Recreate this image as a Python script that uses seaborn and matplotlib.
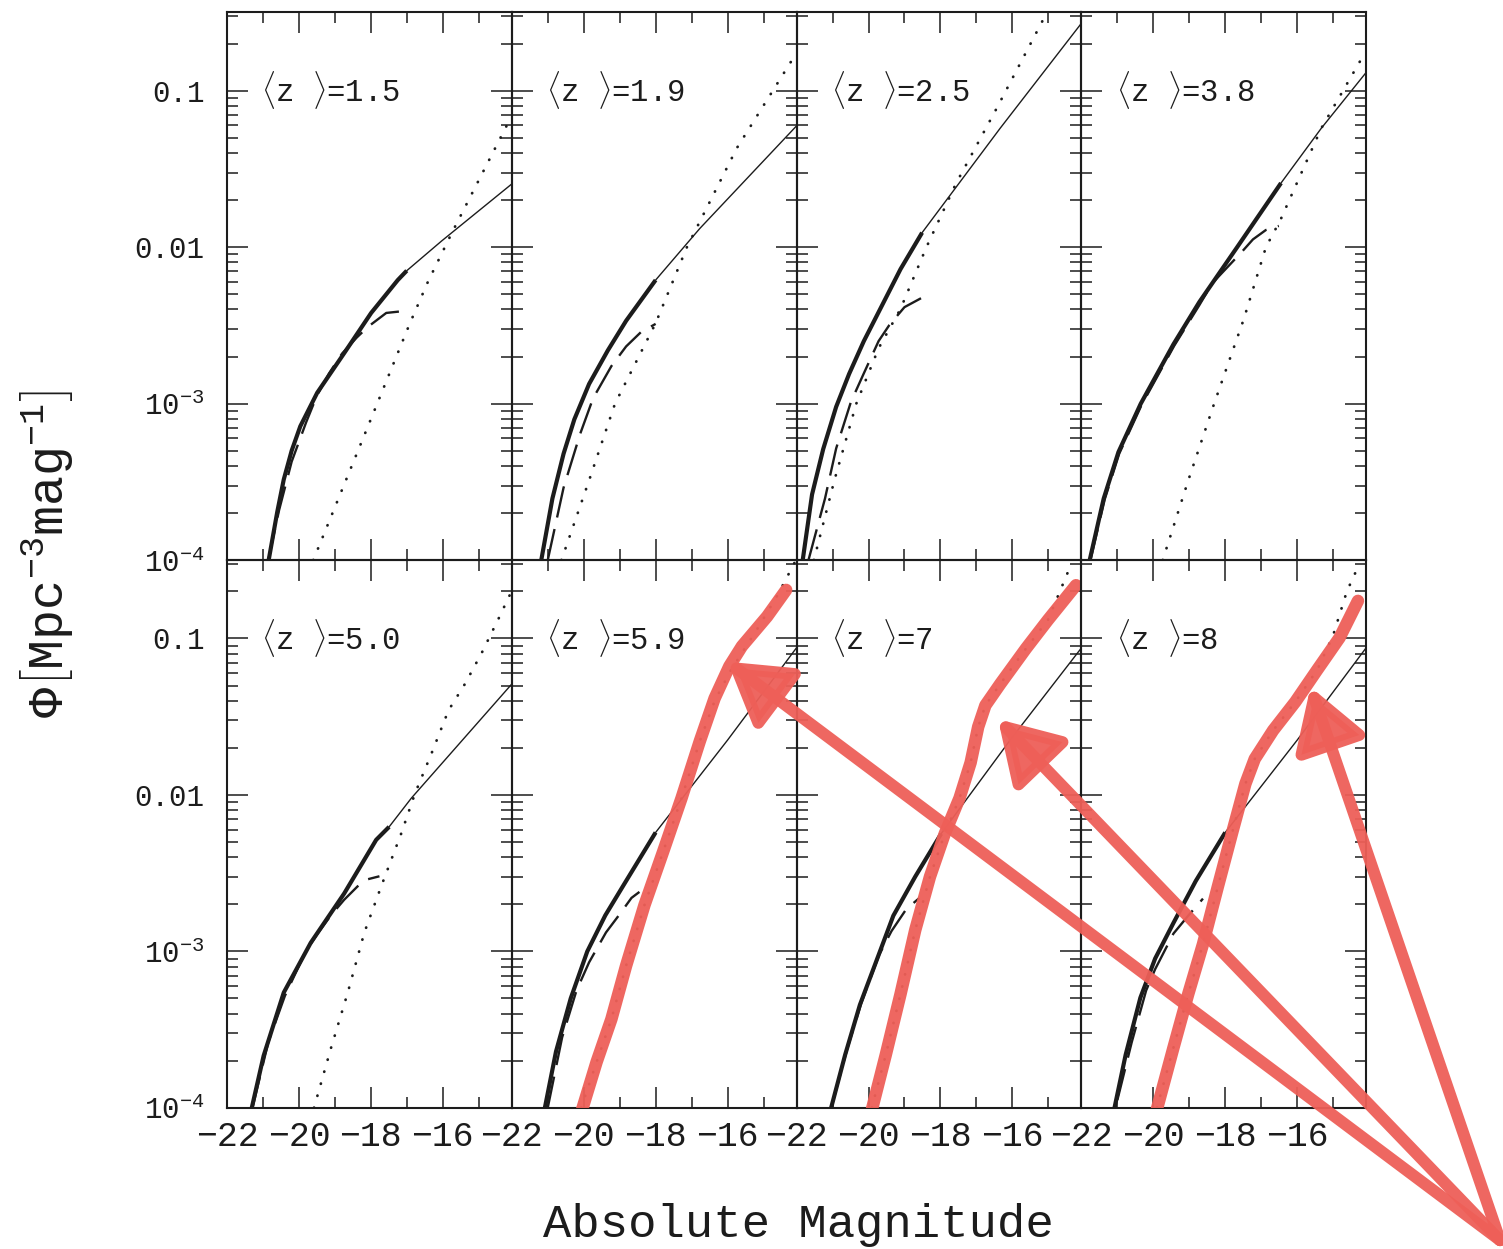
import numpy as np
import seaborn as sns
import matplotlib.pyplot as plt
from matplotlib.ticker import LogLocator, NullFormatter, MultipleLocator
from matplotlib.patches import ConnectionPatch

# panel labels <z>
z_labels = ["1.5", "1.9", "2.5", "3.8", "5.0", "5.9", "7", "8"]

# heavy solid line (fitted range), log10(phi) vs absolute magnitude
thick_mag = [
    [-20.84, -20.6, -20.42, -20.2, -19.96, -19.49, -18.74, -17.99, -17.25, -17.0],
    [-21.18, -20.87, -20.56, -20.26, -19.85, -19.33, -18.82, -18.0],
    [-21.83, -21.57, -21.26, -20.90, -20.54, -20.13, -19.62, -19.11, -18.51],
    [-21.77, -21.38, -20.97, -20.35, -19.44, -18.72, -17.67, -16.45],
    [-21.31, -20.98, -20.42, -19.67, -18.74, -17.85, -17.49],
    [-21.08, -20.77, -20.36, -19.9, -19.4, -18.9, -18.45, -18.0],
    [-21.04, -20.65, -20.24, -19.83, -19.31, -18.70, -17.98],
    [-21.08, -20.77, -20.36, -19.95, -19.44, -18.82, -18.0],
]
thick_logphi = [
    [-4.0, -3.69, -3.484, -3.30, -3.144, -2.93, -2.677, -2.42, -2.21, -2.15],
    [-4.0, -3.606, -3.32, -3.10, -2.874, -2.66, -2.47, -2.21],
    [-4.0, -3.58, -3.29, -3.02, -2.81, -2.60, -2.37, -2.14, -1.907],
    [-4.0, -3.606, -3.309, -3.0, -2.62, -2.35, -2.0, -1.59],
    [-4.0, -3.667, -3.263, -2.945, -2.63, -2.287, -2.204],
    [-4.0, -3.64, -3.30, -3.0, -2.77, -2.58, -2.41, -2.24],
    [-4.0, -3.661, -3.342, -3.091, -2.772, -2.522, -2.248],
    [-4.0, -3.661, -3.296, -3.046, -2.818, -2.55, -2.24],
]

# thin solid line (extrapolation to the faint end)
thin_mag = [
    [-17.0, -16.03, -14.07],
    [-18.0, -16.77, -14.05],
    [-18.51, -16.34, -14.05],
    [-16.45, -15.33, -14.05],
    [-17.49, -16.87, -14.07],
    [-18.0, -16.0, -14.05],
    [-17.98, -16.03, -14.05],
    [-18.0, -16.0, -14.05],
]
thin_logphi = [
    [-2.15, -1.96, -1.594],
    [-2.21, -1.88, -1.217],
    [-1.907, -1.24, -0.56],
    [-1.59, -1.24, -0.874],
    [-2.204, -2.02, -1.289],
    [-2.24, -1.65, -1.05],
    [-2.248, -1.64, -1.052],
    [-2.24, -1.65, -1.05],
]

# long-dashed line
dash_mag = [
    [-20.85, -20.55, -20.2, -19.8, -19.5, -19.16, -18.8, -18.39, -18.08, -17.57, -17.0],
    [-21.0, -20.56, -20.1, -19.74, -19.23, -18.82, -18.41, -18.0],
    [-21.67, -21.21, -20.9, -20.49, -20.13, -19.72, -19.42, -19.0, -18.54],
    [-21.75, -21.35, -20.95, -20.33, -19.42, -18.72, -18.36, -17.54, -17.23, -16.87, -16.51],
    [-21.29, -20.85, -20.39, -19.83, -19.49, -19.11, -18.74, -18.37, -18.1, -17.76],
    [-21.0, -20.6, -20.2, -19.85, -19.38, -19.03, -18.67, -18.45],
    [-21.0, -20.6, -20.2, -19.7, -19.36, -18.95, -18.59],
    [-21.0, -20.6, -20.2, -19.95, -19.44, -19.03, -18.62],
]
dash_logphi = [
    [-4.0, -3.68, -3.37, -3.12, -2.95, -2.806, -2.68, -2.577, -2.509, -2.42, -2.406],
    [-4.0, -3.537, -3.194, -2.966, -2.76, -2.634, -2.543, -2.49],
    [-4.0, -3.606, -3.286, -2.989, -2.806, -2.6, -2.497, -2.383, -2.326],
    [-4.0, -3.61, -3.32, -3.01, -2.63, -2.37, -2.23, -2.03, -1.95, -1.89, -1.864],
    [-4.0, -3.58, -3.285, -3.01, -2.89, -2.77, -2.67, -2.585, -2.54, -2.52],
    [-4.0, -3.55, -3.25, -3.07, -2.879, -2.772, -2.658, -2.62],
    [-3.97, -3.63, -3.33, -3.02, -2.87, -2.73, -2.66],
    [-3.95, -3.58, -3.25, -3.114, -2.886, -2.772, -2.663],
]

# dotted line
dot_mag = [
    [-19.6, -18.0, -16.92, -16.41, -15.75, -14.17],
    [-20.62, -19.85, -19.13, -18.0, -17.13, -15.74, -14.15],
    [-21.52, -20.95, -20.34, -19.72, -19.11, -18.39, -17.57, -16.44, -15.06],
    [-19.74, -19.03, -18.31, -17.49, -16.87, -16.46, -15.33, -14.15],
    [-19.58, -19.11, -18.64, -18.18, -17.71, -17.15, -16.77, -16.31, -15.84,
     -15.38, -14.91, -14.44, -14.12],
    [-20.07, -19.64, -19.23, -18.82, -18.31, -17.79, -17.28, -16.77, -16.36,
     -15.9, -15.2, -14.6, -14.1],
    [-19.91, -19.52, -19.11, -18.70, -18.29, -17.88, -17.47, -17.16, -16.95,
     -16.75, -16.34, -15.62, -15.01, -14.39],
    [-19.9, -19.44, -19.03, -18.62, -18.21, -17.79, -17.44, -17.18, -16.67,
     -16.05, -15.44, -15.0, -14.62, -14.31],
]
dot_logphi = [
    [-4.0, -3.10, -2.49, -2.22, -1.91, -1.20],
    [-4.0, -3.49, -3.0, -2.486, -2.0, -1.366, -0.783],
    [-4.0, -3.49, -3.0, -2.646, -2.394, -2.0, -1.594, -1.114, -0.509],
    [-4.0, -3.491, -3.0, -2.463, -2.0, -1.823, -1.24, -0.771],
    [-4.0, -3.62, -3.263, -2.88, -2.584, -2.244, -1.99, -1.734, -1.46,
     -1.29, -1.09, -0.87, -0.715],
    [-4.0, -3.706, -3.433, -3.091, -2.704, -2.362, -2.021, -1.656, -1.40,
     -1.2, -0.95, -0.72, -0.50],
    [-4.0, -3.661, -3.273, -2.863, -2.522, -2.248, -2.021, -1.793, -1.565,
     -1.428, -1.292, -1.064, -0.882, -0.54],
    [-4.0, -3.615, -3.273, -2.954, -2.59, -2.226, -1.929, -1.77, -1.588,
     -1.405, -1.2, -0.98, -0.70, -0.544],
]

# red hand-drawn highlights over the dotted curves (panels 5.9, 7, 8)
mark_panel = [5, 6, 7]
mark_mag = [
    [-20.07, -19.64, -19.23, -18.82, -18.31, -17.79, -17.28, -16.77, -16.36,
     -15.95, -15.6, -14.9, -14.37],
    [-19.95, -19.52, -19.11, -18.70, -18.29, -17.88, -17.47, -17.16, -16.95,
     -16.75, -16.34, -15.62, -15.01, -14.23],
    [-19.95, -19.44, -19.03, -18.62, -18.21, -17.79, -17.44, -17.18, -16.67,
     -16.05, -15.44, -14.82, -14.31],
]
mark_logphi = [
    [-4.03, -3.706, -3.433, -3.091, -2.704, -2.362, -2.021, -1.656, -1.383,
     -1.178, -1.05, -0.86, -0.69],
    [-4.05, -3.661, -3.273, -2.863, -2.522, -2.248, -2.021, -1.793, -1.565,
     -1.428, -1.292, -1.064, -0.882, -0.66],
    [-4.05, -3.615, -3.273, -2.954, -2.59, -2.226, -1.929, -1.77, -1.588,
     -1.405, -1.2, -0.995, -0.76],
]
# red arrows: tip in each panel, all starting from the lower right corner
arrow_tip_mag = [-16.0, -16.4, -15.63]
arrow_tip_phi = [0.071, 0.0305, 0.049]
arrow_tail = (0.998, 0.007)

red = "#EE5F58"
ink = "#1c1c1c"
mono = ["Liberation Mono", "DejaVu Sans Mono"]

sns.set_style("ticks")
plt.rcParams.update({
    "font.family": mono,
    "mathtext.fontset": "custom",
    "mathtext.rm": "Liberation Mono",
    "mathtext.it": "Liberation Mono",
    "mathtext.tt": "Liberation Mono",
    "mathtext.fallback": "cm",
    "axes.edgecolor": ink,
    "axes.linewidth": 1.5,
    "xtick.color": ink,
    "ytick.color": ink,
    "axes.facecolor": "none",
})

fig, axes = plt.subplots(2, 4, figsize=(15.03, 12.49), dpi=100)
fig.patch.set_facecolor("white")
fig.subplots_adjust(left=0.151, right=0.909, top=0.990, bottom=0.113,
                    wspace=0, hspace=0)


def curve(ax, mag, logphi, **kw):
    sns.lineplot(x=np.asarray(mag), y=np.power(10.0, logphi), ax=ax,
                 sort=False, estimator=None, **kw)


for i, ax in enumerate(axes.flat):
    ax.set_yscale("log")
    curve(ax, thin_mag[i], thin_logphi[i], color=ink, lw=1.0)
    curve(ax, dot_mag[i], dot_logphi[i], color=ink, lw=2.0,
          linestyle=(0, (0.1, 4.4)), dash_capstyle="round")
    curve(ax, dash_mag[i], dash_logphi[i], color=ink, lw=1.7,
          linestyle=(0, (13.5, 5)))
    curve(ax, thick_mag[i], thick_logphi[i], color=ink, lw=3.0,
          solid_capstyle="butt")

    ax.set_xlim(-22, -14.08)
    ax.set_ylim(1e-4, 10 ** -0.5)
    ax.set_xticks([-22, -20, -18, -16])
    ax.xaxis.set_minor_locator(MultipleLocator(1))
    ax.set_yticks([1e-4, 1e-3, 1e-2, 1e-1])
    ax.yaxis.set_minor_locator(LogLocator(base=10, subs=np.arange(2, 10)))
    ax.yaxis.set_minor_formatter(NullFormatter())
    ax.tick_params(which="both", direction="in", top=True, right=True,
                   width=1.1)
    ax.tick_params(which="major", length=15)
    ax.tick_params(which="minor", length=8)
    ax.tick_params(axis="x", labelsize=25, pad=9)
    ax.tick_params(axis="y", labelsize=21, pad=16)

    if i % 4 == 0:
        ax.set_yticklabels([r"10$^{-4}$", r"10$^{-3}$", "0.01", "0.1"])
    else:
        ax.tick_params(axis="y", labelleft=False)
    if i >= 4:
        ax.set_xticklabels(["\u221222", "\u221220", "\u221218", "\u221216"])
    else:
        ax.tick_params(axis="x", labelbottom=False)
    ax.set_xlabel("")
    ax.set_ylabel("")

    ax.text(0.12, 0.858, r"$\langle$z $\rangle$=" + z_labels[i],
            transform=ax.transAxes, fontsize=22, va="center", ha="left",
            color=ink)

# red hand-drawn highlights
for p, m, lp in zip(mark_panel, mark_mag, mark_logphi):
    curve(axes.flat[p], m, lp, color=red, lw=9, alpha=0.95,
          solid_capstyle="round", solid_joinstyle="round", zorder=10)

for p, m, ph in zip(mark_panel, arrow_tip_mag, arrow_tip_phi):
    con = ConnectionPatch(xyA=arrow_tail, coordsA="figure fraction",
                          xyB=(m, ph), coordsB="data", axesB=axes.flat[p],
                          arrowstyle="-|>,head_length=0.9,head_width=0.55",
                          mutation_scale=40, lw=8.5, color=red, alpha=0.95,
                          shrinkA=0, shrinkB=0, zorder=20)
    fig.add_artist(con)

fig.text(0.531, 0.019, "Absolute Magnitude", fontsize=34,
         ha="center", va="center", color=ink)
fig.text(0.031, 0.556,
         r"$\Phi\left[\mathrm{Mpc}^{-3}\mathrm{mag}^{-1}\right]$",
         fontsize=36, rotation=90, ha="center", va="center", color=ink)

fig.savefig("out.png", dpi=100)
